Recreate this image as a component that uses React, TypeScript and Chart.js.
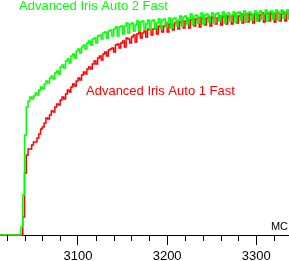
import React, { useEffect, useRef } from "react";
import { Chart, registerables } from "chart.js";

Chart.register(...registerables);

// MC positions: start and step of the sampled frame counter
const MC_START = 3012;
const MC_STEP = 2;

// Series values (signal level, 0 = baseline)
const auto2Fast = [
  0, 0, 0, 0, 0, 0, 0, 0, 0, 0, 0, 0,
  8, 40, 100, 128, 134, 138, 136, 139, 142, 140,
  145, 148, 146, 151, 154, 152, 157, 159, 156, 162,
  164, 161, 168, 170, 167, 174, 176, 172, 179, 181,
  177, 184, 186, 182, 188, 190, 186, 192, 194, 190,
  196, 197, 192, 199, 200, 196, 202, 203, 197, 204,
  205, 199,
  206, 208, 199, 208, 209, 201, 209, 212, 202, 211, 212, 204,
  210, 214, 204, 213, 214, 206, 211, 215, 205, 214, 215, 207,
  212, 216, 206, 215, 216, 208, 213, 217, 207, 216, 217, 209,
  215, 219, 209, 218, 219, 211, 217, 221, 210, 219, 220, 212,
  218, 222, 211, 220, 221, 213, 219, 222, 212, 221, 222, 214,
  219, 223, 212, 221, 222, 214, 220, 223, 213, 222, 223, 215,
  220, 224, 213, 222, 223, 215, 221, 224, 214, 222, 224, 216,
  221, 225, 214, 223, 224, 216, 222, 225, 215, 223, 225, 217,
  222, 225, 216, 224,
];

const auto1Fast = [
  0, 0, 0, 0, 0, 0, 0, 0, 0, 0, 0, 0, 0,
  18, 62, 80, 86, 86, 90, 93, 93, 97, 101,
  106, 108, 112, 117, 116, 120, 124, 123, 128, 131,
  130, 135, 138, 136, 141, 145, 143, 148, 151, 149,
  154, 157, 155, 160, 163, 161, 166, 168, 166, 171,
  174, 171, 177, 179, 175, 181, 183, 179, 185, 186,
  187,
  183, 190, 191, 187, 192, 194, 188, 197, 196, 192, 198, 200,
  193, 201, 203, 197, 202, 204, 198, 206, 205, 200, 206, 208,
  201, 209, 208, 203, 209, 211, 203, 211, 210, 205, 212, 213,
  206, 213, 214, 207, 214, 216, 207, 215, 216, 209, 216, 217,
  208, 217, 216, 210, 217, 218, 209, 218, 217, 211, 217, 219,
  210, 218, 219, 211, 219, 218, 211, 220, 219, 212, 219, 221,
  212, 220, 221, 213, 221, 220, 212, 221, 221, 214, 220, 222,
  213, 221, 222, 214, 222, 221, 213, 222, 222, 214, 221, 223,
  214, 222, 222, 215,
];

const mcPositions = auto2Fast.map((_, i) => MC_START + i * MC_STEP);

const majorTicks = [3100, 3200, 3300];
const minorTicks = [3020, 3040, 3060, 3080, 3120, 3140, 3160, 3180, 3220, 3240, 3260, 3280, 3320];
const seriesNames = ["Advanced Iris Auto 2 Fast", "Advanced Iris Auto 1 Fast"];
const seriesColors = ["#00ff00", "#ff0000"];
const axisTitle = "MC";

const FONT = '"Liberation Sans", Arial, sans-serif';

const overlayPlugin = {
  id: "overlay",
  afterDraw(chart: any) {
    const ctx = chart.ctx;
    const xs = chart.scales.x;
    const bottom = chart.chartArea.bottom;
    ctx.save();
    ctx.strokeStyle = "#000";
    ctx.lineWidth = 1;
    ctx.beginPath();
    minorTicks.forEach((v) => {
      const px = Math.round(xs.getPixelForValue(v)) + 0.5;
      ctx.moveTo(px, bottom);
      ctx.lineTo(px, bottom + 6);
    });
    ctx.stroke();

    ctx.textBaseline = "alphabetic";
    ctx.font = "13px " + FONT;
    ctx.textAlign = "left";
    ctx.fillStyle = seriesColors[0];
    ctx.fillText(seriesNames[0], 19, 10);
    ctx.fillStyle = seriesColors[1];
    ctx.fillText(seriesNames[1], 86, 95);

    ctx.font = "11px " + FONT;
    ctx.fillStyle = "#000";
    ctx.textAlign = "right";
    ctx.fillText(axisTitle, 288, 230);
    ctx.restore();
  },
};

export default function App() {
  const ref = useRef<HTMLCanvasElement>(null);
  useEffect(() => {
    if (!ref.current) return;
    const chart = new Chart(ref.current, {
      type: "line",
      data: {
        datasets: [
          {
            label: seriesNames[0],
            data: mcPositions.map((x, i) => ({ x, y: auto2Fast[i] })),
            borderColor: seriesColors[0],
            borderWidth: 1.5,
            pointRadius: 0,
            stepped: true,
            fill: false,
            clip: false as any,
          },
          {
            label: seriesNames[1],
            data: mcPositions.map((x, i) => ({ x, y: auto1Fast[i] })),
            borderColor: seriesColors[1],
            borderWidth: 1.5,
            pointRadius: 0,
            stepped: true,
            fill: false,
            clip: false as any,
          },
        ],
      },
      options: {
        animation: false,
        responsive: false,
        devicePixelRatio: 1,
        layout: { padding: 0 },
        plugins: { legend: { display: false }, tooltip: { enabled: false } },
        scales: {
          x: {
            type: "linear",
            position: "bottom",
            min: 3012.5,
            max: 3336.7,
            afterBuildTicks: (axis: any) => {
              axis.ticks = majorTicks.map((v) => ({ value: v }));
            },
            afterFit: (axis: any) => {
              axis.height = 26;
            },
            ticks: {
              color: "#000",
              font: { family: FONT, size: 13 },
              padding: 4,
              maxRotation: 0,
              autoSkip: false,
              callback: (v: any) => String(v),
            },
            grid: {
              drawOnChartArea: false,
              drawTicks: true,
              tickLength: 10,
              color: "#000",
              tickColor: "#000",
            },
            border: { display: true, color: "#000", width: 1 },
          },
          y: {
            type: "linear",
            display: false,
            min: 0,
            max: 235,
          },
        },
      },
      plugins: [overlayPlugin],
    });
    return () => chart.destroy();
  }, []);
  return (
    <div style={{ position: "fixed", left: 0, top: 0, width: 289, height: 261, background: "#fff" }}>
      <canvas ref={ref} width={289} height={261} style={{ display: "block" }} />
    </div>
  );
}
